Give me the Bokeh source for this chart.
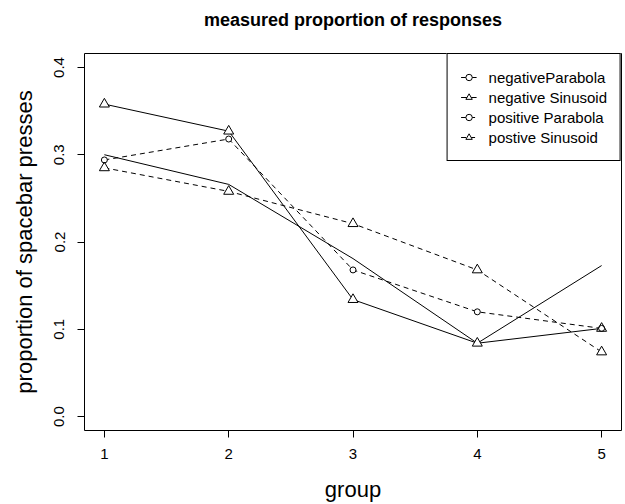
from bokeh.plotting import figure
from bokeh.models import Range1d, FixedTicker, Legend, LegendItem, ColumnDataSource, Title
from bokeh.embed import file_html
from bokeh.resources import INLINE

# ---- data ----
groups = [1, 2, 3, 4, 5]
neg_parabola = [0.300, 0.266, 0.181, 0.084, 0.173]
neg_sinusoid = [0.358, 0.327, 0.134, 0.084, 0.101]
pos_parabola = [0.294, 0.318, 0.168, 0.120, 0.101]
pos_sinusoid = [0.285, 0.258, 0.221, 0.168, 0.074]
series_names = ["negativeParabola", "negative Sinusoid", "positive Parabola", "postive Sinusoid"]
x_ticks = [1, 2, 3, 4, 5]
x_tick_labels = ["1", "2", "3", "4", "5"]
y_ticks = [0.0, 0.1, 0.2, 0.3, 0.4]
y_tick_labels = ["0.0", "0.1", "0.2", "0.3", "0.4"]

FONT = "Liberation Sans"

p = figure(width=624, height=504, output_backend="svg", toolbar_location=None,
           x_range=Range1d(0.84, 5.16), y_range=Range1d(-0.016, 0.416),
           min_border_left=84, min_border_right=3, min_border_top=53, min_border_bottom=73,
           title="measured proportion of responses")

p.background_fill_color = "white"
p.border_fill_color = "white"
p.outline_line_color = "black"
p.outline_line_width = 1
p.grid.visible = False

p.title.align = "center"
p.title.text_font = FONT
p.title.text_font_size = "18px"
p.title.text_font_style = "bold"
p.title.text_color = "black"

# blank spacer panel between the frame and the title
spacer = Title(text=" ", text_font_size="10px", standoff=6)
p.add_layout(spacer, "above")

for ax in (p.xaxis[0], p.yaxis[0]):
    ax.axis_line_color = None
    ax.major_tick_in = 0
    ax.major_tick_out = 7
    ax.major_tick_line_color = "black"
    ax.minor_tick_line_color = None
    ax.major_label_text_font = FONT
    ax.major_label_text_font_size = "15px"
    ax.major_label_text_color = "black"
    ax.axis_label_text_font = FONT
    ax.axis_label_text_font_size = "22px"
    ax.axis_label_text_font_style = "normal"
    ax.axis_label_text_color = "black"

p.xaxis.ticker = FixedTicker(ticks=x_ticks)
p.xaxis.major_label_overrides = dict(zip(x_ticks, x_tick_labels))
p.xaxis.axis_label = "group"
p.xaxis.major_label_standoff = 11
p.xaxis.axis_label_standoff = 15

p.yaxis.ticker = FixedTicker(ticks=y_ticks)
p.yaxis.major_label_overrides = dict(zip(y_ticks, y_tick_labels))
p.yaxis.major_label_orientation = "vertical"
p.yaxis.axis_label = "proportion of spacebar presses"
p.yaxis.major_label_standoff = 13
p.yaxis.axis_label_standoff = 15

specs = [
    (neg_parabola, "solid", "circle", False),
    (neg_sinusoid, "solid", "triangle", True),
    (pos_parabola, "5 4", "circle", True),
    (pos_sinusoid, "5 4", "triangle", True),
]

lines = []
for vals, dash, marker, shown in specs:
    src = ColumnDataSource(dict(x=groups, y=vals))
    lines.append((src, p.line("x", "y", source=src, line_color="black", line_width=1, line_dash=dash)))

backs = []
for (src, _), (vals, dash, marker, shown) in zip(lines, specs):
    size = 6 if marker == "circle" else 10
    backs.append(p.scatter("x", "y", source=src, marker=marker, size=size,
                           fill_color="white", line_color=None, visible=shown))

fronts = []
for (src, _), (vals, dash, marker, shown) in zip(lines, specs):
    size = 6 if marker == "circle" else 10
    fronts.append(p.scatter("x", "y", source=src, marker=marker, size=size,
                            fill_color=None, line_color="black", line_width=1, visible=shown))

items = []
for name, (src, ln), b, f in zip(series_names, lines, backs, fronts):
    items.append(LegendItem(label=name, renderers=[ln, b, f]))

legend = Legend(items=items, location="top_right", margin=0, padding=13, spacing=0,
                glyph_width=16, glyph_height=20, label_height=20, label_standoff=12,
                label_text_font=FONT, label_text_font_size="15px", label_text_color="black",
                border_line_color="black", border_line_width=1, border_line_alpha=1,
                background_fill_color="white", background_fill_alpha=1,
                inactive_fill_alpha=0, click_policy="none")
p.add_layout(legend)

open("out.html", "w").write(file_html(p, INLINE))
